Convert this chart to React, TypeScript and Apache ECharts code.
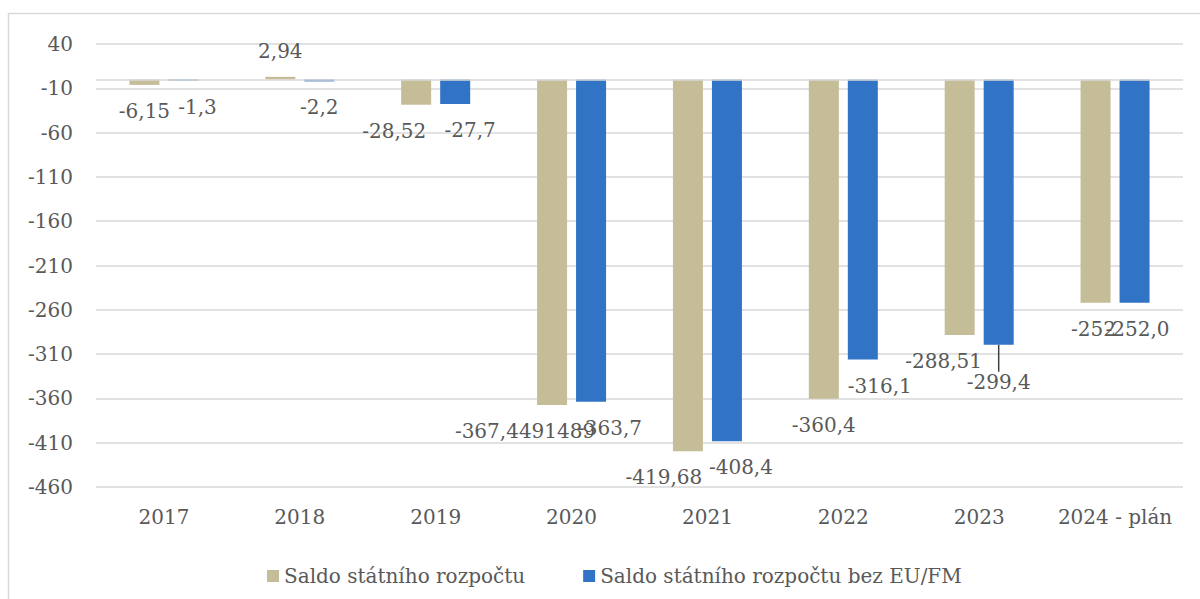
import React, { useEffect, useRef } from "react";
import * as echarts from "echarts";

const categories = ["2017", "2018", "2019", "2020", "2021", "2022", "2023", "2024 - plán"];
const seriesNames = ["Saldo státního rozpočtu", "Saldo státního rozpočtu bez EU/FM"];
const saldo = [-6.15, 2.94, -28.52, -367.4491489, -419.68, -360.4, -288.51, -252];
const saldoBezEU = [-1.3, -2.2, -27.7, -363.7, -408.4, -316.1, -299.4, -252.0];
const yTicks = { min: -460, max: 40, interval: 50 };

// manual label nudges (dx, dy) as in the source chart
const saldoLabelNudge = [[0, 0], [0, 0], [-22, 0], [-27, 0], [-24, 0], [0, 0], [-16, 0], [-2, 0]];
const bezEULabelNudge = [[14, 0], [0, 0], [15, 0], [19, 0], [14, 0], [17, 0], [0, 11], [3, 0]];

const FONT = "DejaVu Serif";
const TEXT = "#595959";
const GRID = "#D9D9D9";
const TAN = "#C4BD97";
const BLUE = "#3173C5";

const fmtSaldo = (v: number) => String(v).replace(".", ",");
const fmtBez = (v: number) => v.toFixed(1).replace(".", ",");

export default function App() {
  const ref = useRef<HTMLDivElement>(null);
  useEffect(() => {
    if (!ref.current) return;
    const chart = echarts.init(ref.current, null, { renderer: "svg" });
    const mkData = (vals: number[], fmt: (v: number) => string, lineIdx: number) =>
      vals.map((v, i) => ({
        value: v,
        label: { position: v >= 0 ? "top" : "bottom", formatter: fmt(v) },
        labelLine: { show: i === lineIdx },
      }));
    const nudges = [saldoLabelNudge, bezEULabelNudge];
    const labelStyle = {
      show: true,
      distance: 16,
      fontFamily: FONT,
      fontSize: 20,
      color: TEXT,
    };
    chart.setOption({
      animation: false,
      textStyle: { fontFamily: FONT },
      graphic: [
        {
          type: "rect",
          shape: { x: 8.5, y: 13.5, width: 1300, height: 700 },
          style: { fill: "none", stroke: GRID, lineWidth: 1.5 },
          silent: true,
          z: -10,
        },
      ],
      grid: { left: 96, right: 17, top: 44, bottom: 112, outerBoundsMode: "none" },
      legend: {
        left: 262,
        top: 561,
        itemWidth: 12,
        itemHeight: 12,
        itemGap: 58,
        icon: "rect",
        textStyle: { fontFamily: FONT, fontSize: 20, color: TEXT },
        data: seriesNames,
      },
      xAxis: {
        type: "category",
        data: categories,
        axisLine: { show: false },
        axisTick: { show: false },
        axisLabel: { fontFamily: FONT, fontSize: 20, color: TEXT, margin: 20, interval: 0 },
      },
      yAxis: {
        type: "value",
        min: yTicks.min,
        max: yTicks.max,
        interval: yTicks.interval,
        axisLine: { show: false },
        axisTick: { show: false },
        splitLine: { lineStyle: { color: GRID, width: 1.5 } },
        axisLabel: { fontFamily: FONT, fontSize: 20, color: TEXT, margin: 23 },
      },
      series: [
        {
          name: seriesNames[0],
          type: "bar",
          barWidth: 30,
          barGap: "30%",
          itemStyle: { color: TAN },
          label: labelStyle,
          data: mkData(saldo, fmtSaldo, -1),
          markLine: {
            silent: true,
            symbol: "none",
            label: { show: false },
            lineStyle: { color: GRID, type: "solid", width: 1.5 },
            data: [{ yAxis: 0 }],
          },
        },
        {
          name: seriesNames[1],
          type: "bar",
          barWidth: 30,
          barGap: "30%",
          itemStyle: { color: BLUE },
          label: labelStyle,
          labelLine: { show: false, lineStyle: { color: "#404040", width: 1.5 } },
          data: mkData(saldoBezEU, fmtBez, 6),
        },
      ],
      labelLayout: (params: any) => {
        const n = nudges[params.seriesIndex]?.[params.dataIndex] || [0, 0];
        return { dx: n[0], dy: n[1] };
      },
    });
    return () => chart.dispose();
  }, []);
  return (
    <div
      ref={ref}
      style={{ position: "absolute", left: 0, top: 0, width: 1200, height: 599, background: "#fff" }}
    />
  );
}
